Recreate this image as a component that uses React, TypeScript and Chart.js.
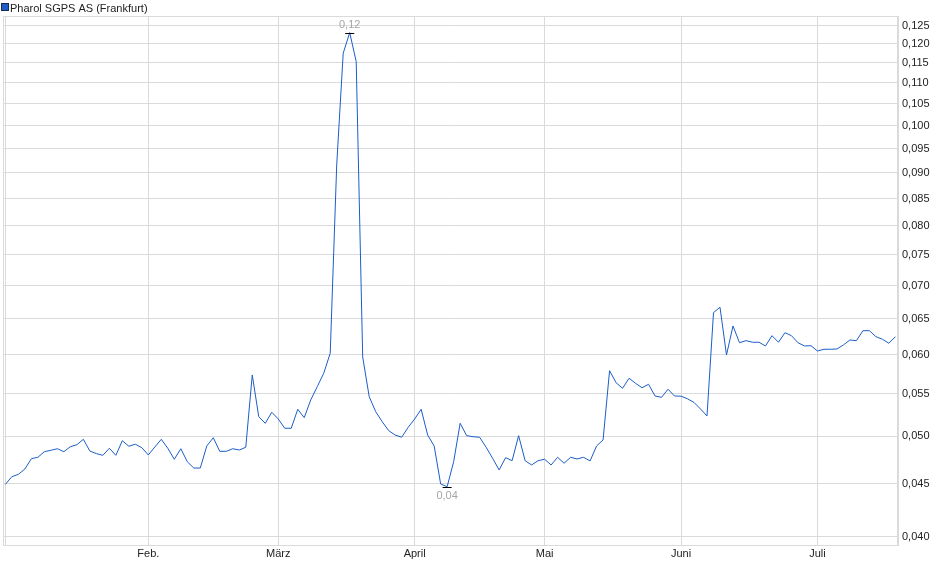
import { useEffect, useRef } from 'react';
import { Chart, registerables } from 'chart.js';

Chart.register(...registerables);

const seriesName = 'Pharol SGPS AS (Frankfurt)';

// daily closes
const prices = [
  0.04494, 0.04571, 0.04595, 0.0465, 0.04758, 0.04773, 0.04833, 0.04848, 0.04865, 0.04833,
  0.04887, 0.04909, 0.04968, 0.0484, 0.04812, 0.04794, 0.0487, 0.04794, 0.04953, 0.04892,
  0.04914, 0.04876, 0.04798, 0.04884, 0.04968, 0.0487, 0.04752, 0.04865, 0.04726, 0.0466,
  0.0466, 0.04895, 0.04986, 0.04837, 0.04837, 0.04865, 0.04851, 0.04881, 0.05735, 0.05225,
  0.05149, 0.05277, 0.05199, 0.05092, 0.05092, 0.05312, 0.05214, 0.05424, 0.05587, 0.05757,
  0.0602, 0.09161, 0.11754, 0.12306, 0.11535, 0.0597, 0.05464, 0.05284, 0.05168, 0.05065,
  0.05016, 0.04991, 0.05103, 0.05199, 0.05312, 0.05016, 0.04895, 0.04497, 0.0447, 0.04726,
  0.05149, 0.05009, 0.04997, 0.04991, 0.04881, 0.04762, 0.0464, 0.04769, 0.04737, 0.05009,
  0.04737, 0.04692, 0.04737, 0.04752, 0.04692, 0.04773, 0.0471, 0.04773, 0.04755, 0.04773,
  0.04734, 0.04895, 0.04961, 0.0579, 0.05637, 0.05567, 0.05693, 0.05629, 0.05574, 0.05617,
  0.05472, 0.05456, 0.05555, 0.05472, 0.0547, 0.05438, 0.05394, 0.05316, 0.05234, 0.0659,
  0.0667, 0.05996, 0.06397, 0.06163, 0.06191, 0.06169, 0.06169, 0.06118, 0.0626, 0.06169,
  0.06302, 0.0626, 0.06163, 0.06118, 0.06122, 0.0605, 0.06073, 0.06073, 0.06077, 0.06132,
  0.062, 0.06191, 0.0633, 0.0633, 0.06246, 0.0621, 0.06155, 0.06246,
];

// index of the first trading day of each month
const monthStarts = [0, 22, 42, 63, 83, 104, 125];
const monthLabels = ['', 'Feb.', 'März', 'April', 'Mai', 'Juni', 'Juli'];

const yTicks = [
  0.04, 0.045, 0.05, 0.055, 0.06, 0.065, 0.07, 0.075, 0.08, 0.085, 0.09, 0.095, 0.1, 0.105,
  0.11, 0.115, 0.12, 0.125,
];

const FONT = "'Liberation Sans', Arial, sans-serif";
const GRID = '#dadada';
const LINE = '#1c5dc8';

const comma = (v: number, d: number) => v.toFixed(d).replace('.', ',');

const frame = {
  id: 'frame',
  beforeDatasetsDraw(chart: Chart) {
    const { ctx, chartArea: a } = chart;
    ctx.save();
    ctx.strokeStyle = GRID;
    ctx.lineWidth = 1;
    ctx.strokeRect(Math.round(a.left) + 0.5, Math.round(a.top) + 0.5, Math.round(a.width) - 1, Math.round(a.height));
    ctx.restore();
  },
};

// small legend in the top-left corner, above the plot
const legendBox = {
  id: 'legendBox',
  afterDraw(chart: Chart) {
    const { ctx } = chart;
    ctx.save();
    ctx.fillStyle = LINE;
    ctx.fillRect(1.5, 3.5, 7, 7);
    ctx.strokeStyle = '#1b2b4f';
    ctx.lineWidth = 1;
    ctx.strokeRect(1.5, 3.5, 7, 7);
    ctx.fillStyle = '#222';
    ctx.font = `11px ${FONT}`;
    ctx.textAlign = 'left';
    ctx.textBaseline = 'alphabetic';
    ctx.fillText(seriesName, 10, 11.5);
    ctx.restore();
  },
};

const extremes = {
  id: 'extremes',
  afterDatasetsDraw(chart: Chart) {
    const { ctx } = chart;
    const x = chart.scales.x;
    const y = chart.scales.y;
    const hi = prices.indexOf(Math.max(...prices));
    const lo = prices.indexOf(Math.min(...prices));
    ctx.save();
    ctx.font = `11px ${FONT}`;
    ctx.textAlign = 'center';
    for (const [i, dir] of [[hi, -1], [lo, 1]]) {
      const px = x.getPixelForValue(i);
      const py = Math.round(y.getPixelForValue(prices[i])) + 0.5;
      ctx.strokeStyle = '#000';
      ctx.lineWidth = 1;
      ctx.beginPath();
      ctx.moveTo(px - 4.5, py);
      ctx.lineTo(px + 4.5, py);
      ctx.stroke();
      ctx.fillStyle = '#a6a6a6';
      ctx.textBaseline = dir < 0 ? 'bottom' : 'top';
      ctx.fillText(comma(prices[i], 2), px, py + dir * 3);
    }
    ctx.restore();
  },
};

export default function App() {
  const canvasRef = useRef<HTMLCanvasElement>(null);

  useEffect(() => {
    document.body.style.margin = '0';
    if (!canvasRef.current) return;

    const chart = new Chart(canvasRef.current, {
      type: 'line',
      data: {
        labels: prices.map((_, i) => i),
        datasets: [{
          label: seriesName,
          data: prices,
          borderColor: LINE,
          backgroundColor: LINE,
          borderWidth: 1,
          pointRadius: 0,
          tension: 0,
          fill: false,
        }],
      },
      options: {
        responsive: true,
        maintainAspectRatio: false,
        animation: false,
        layout: { padding: { left: 3, top: 16, right: 0, bottom: 0 } },
        plugins: {
          legend: { display: false },
          tooltip: { enabled: false },
        },
        scales: {
          x: {
            type: 'linear',
            min: -0.37,
            max: 137.4,
            afterBuildTicks: (s: any) => { s.ticks = monthStarts.map((v) => ({ value: v })); },
            afterFit: (s: any) => { s.height = 34; },
            ticks: {
              autoSkip: false,
              maxRotation: 0,
              padding: 2,
              color: '#222',
              font: { family: FONT, size: 11 },
              callback: (v: any) => monthLabels[monthStarts.indexOf(Number(v))] ?? '',
            },
            grid: { color: GRID, drawTicks: false },
            border: { display: true, color: GRID },
          },
          y: {
            type: 'logarithmic',
            position: 'right',
            min: 0.03925,
            max: 0.1277,
            afterBuildTicks: (s: any) => { s.ticks = yTicks.map((v) => ({ value: v })); },
            afterFit: (s: any) => { s.width = 42; },
            ticks: {
              autoSkip: false,
              padding: 4,
              color: '#222',
              font: { family: FONT, size: 11 },
              callback: (v: any) => comma(Number(v), 3),
            },
            grid: { color: GRID, drawTicks: false },
            border: { display: true, color: GRID },
          },
        },
      },
      plugins: [frame, extremes, legendBox],
    });

    return () => chart.destroy();
  }, []);

  return (
    <div style={{ position: 'relative', width: 940, height: 579 }}>
      <canvas ref={canvasRef} />
    </div>
  );
}
